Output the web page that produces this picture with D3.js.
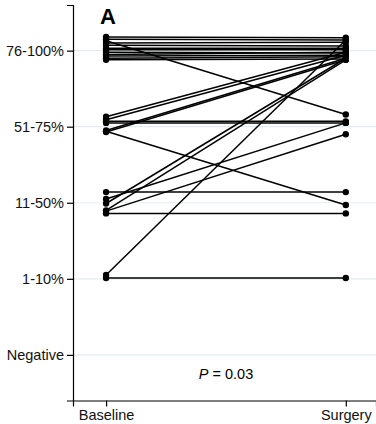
<!DOCTYPE html>
<html>
<head>
<meta charset="utf-8">
<script src="https://cdn.jsdelivr.net/npm/d3@7"></script>
<style>
  html, body { margin: 0; padding: 0; background: #fff; }
  svg { display: block; }
</style>
</head>
<body>
<svg id="chart" width="376" height="424"></svg>
<script>
// Ordinal categories of the y axis (index = position on the scale)
const categories = ["Negative", "1-10%", "11-50%", "51-75%", "76-100%"];
const timepoints = ["Baseline", "Surgery"];

// Per-patient values, jittered around the category index
const baseline = [4.18, 4.15, 4.13, 4.10, 4.07, 4.03, 4.01, 3.98, 3.95, 3.93, 3.90, 3.88,
                  3.13, 3.09, 3.07, 3.05, 2.95, 2.93, 2.94,
                  2.14, 2.05, 1.99, 1.89, 1.90, 1.86,
                  1.05, 1.01];
const surgery  = [4.17, 4.14, 3.16, 4.11, 4.06, 4.03, 4.01, 3.97, 3.98, 3.94, 3.92, 3.89,
                  3.98, 3.94, 3.07, 3.05, 3.90, 3.88, 1.97,
                  2.14, 3.05, 3.90, 2.90, 3.88, 1.86,
                  4.14, 1.01];
const pLabel = "0.03";

const FONT = "'Liberation Sans', Arial, Helvetica, sans-serif";
const svg = d3.select("#chart");

const x = d3.scaleLinear().domain([0.862, 2.126]).range([73, 376]);
const y = d3.scaleLinear().domain([-0.6, 4.6]).range([400.5, 5]);

// light reference lines at each category
svg.append("g").selectAll("line")
  .data(categories)
  .join("line")
  .attr("x1", x.range()[0]).attr("x2", x.range()[1])
  .attr("y1", (d, i) => y(i)).attr("y2", (d, i) => y(i))
  .attr("stroke", "#e4ecee").attr("stroke-width", 1.2);

// axes
const yAxis = d3.axisLeft(y)
  .tickValues(d3.range(categories.length))
  .tickFormat(i => categories[i])
  .tickSizeOuter(0).tickSize(6).tickPadding(3);
const gy = svg.append("g").attr("transform", `translate(${x.range()[0]},0)`).call(yAxis);

const xAxis = d3.axisBottom(x)
  .tickValues([1, 2])
  .tickFormat(i => timepoints[i - 1])
  .tickSizeOuter(0).tickSize(6).tickPadding(3);
const gx = svg.append("g").attr("transform", `translate(0,${y.range()[0]})`).call(xAxis);

[gx, gy].forEach(g => {
  g.attr("font-family", null).attr("font-size", null);
  g.select(".domain").attr("stroke", "#000").attr("stroke-width", 1.2);
  g.selectAll(".tick line").attr("stroke", "#000").attr("stroke-width", 1.2);
  g.selectAll(".tick text").attr("fill", "#111")
    .style("font-family", FONT).style("font-size", "14.5px");
});

// paired lines
const pairs = baseline.map((b, i) => ({ b, s: surgery[i] }));
svg.append("g").selectAll("line")
  .data(pairs)
  .join("line")
  .attr("x1", x(1)).attr("x2", x(2))
  .attr("y1", d => y(d.b)).attr("y2", d => y(d.s))
  .attr("stroke", "#000").attr("stroke-width", 1.5);

// points
const dots = svg.append("g");
dots.selectAll("circle.b").data(baseline).join("circle")
  .attr("class", "b").attr("cx", x(1)).attr("cy", d => y(d)).attr("r", 3.2).attr("fill", "#000");
dots.selectAll("circle.s").data(surgery).join("circle")
  .attr("class", "s").attr("cx", x(2)).attr("cy", d => y(d)).attr("r", 3.2).attr("fill", "#000");

// panel letter
svg.append("text").attr("x", 100).attr("y", 24)
  .style("font-family", FONT).style("font-size", "22px").style("font-weight", "bold").text("A");

// test statistic
const pt = svg.append("text").attr("x", 226).attr("y", 379)
  .attr("text-anchor", "middle").style("font-family", FONT).style("font-size", "14.5px");
pt.append("tspan").style("font-style", "italic").text("P");
pt.append("tspan").text(" = " + pLabel);
</script>
</body>
</html>
